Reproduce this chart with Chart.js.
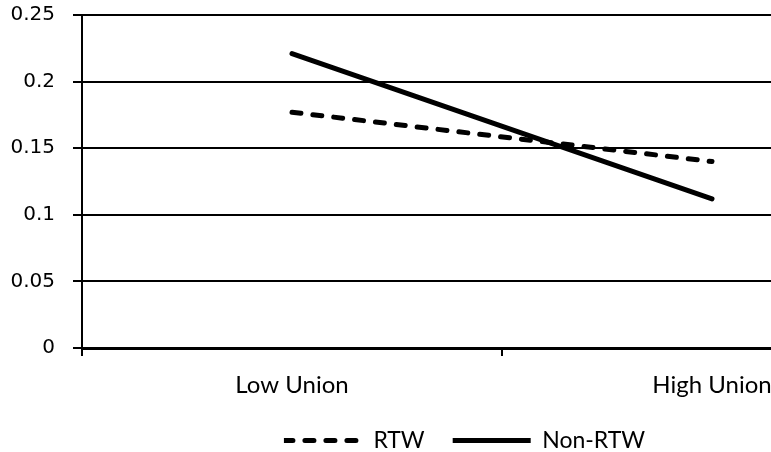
<!DOCTYPE html>
<html>
<head>
<meta charset="utf-8">
<script src="https://cdn.jsdelivr.net/npm/chart.js@4.4.1/dist/chart.umd.min.js"></script>
<style>
    html, body { margin: 0; padding: 0; background: #fff; overflow: hidden; }
    #unionChart { display: block; margin-top: -15px; }
</style>
</head>
<body>
<canvas id="unionChart" width="940" height="477"></canvas>
<script>
const categories = ['Low Union', 'High Union'];
const rtwValues = [0.177, 0.140];
const nonRtwValues = [0.221, 0.112];
const yTickLabels = ['0', '0.05', '0.1', '0.15', '0.2', '0.25'];

document.addEventListener('DOMContentLoaded', function() {
    const ctx = document.getElementById('unionChart').getContext('2d');

    new Chart(ctx, {
        type: 'line',
        data: {
            labels: categories,
            datasets: [{
                label: 'RTW',
                data: rtwValues,
                borderColor: '#000',
                backgroundColor: '#000',
                borderWidth: 5,
                borderDash: [9, 12],
                borderCapStyle: 'round',
                pointRadius: 0,
                tension: 0
            }, {
                label: 'Non-RTW',
                data: nonRtwValues,
                borderColor: '#000',
                backgroundColor: '#000',
                borderWidth: 5,
                borderCapStyle: 'round',
                pointRadius: 0,
                tension: 0
            }]
        },
        options: {
            responsive: false,
            animation: false,
            layout: {
                padding: { top: 0, right: 18, bottom: 0, left: 7 }
            },
            scales: {
                x: {
                    offset: true,
                    grid: {
                        offset: true,
                        drawOnChartArea: false,
                        drawTicks: true,
                        tickLength: 8,
                        color: '#000',
                        lineWidth: 2
                    },
                    border: { color: '#000', width: 3 },
                    ticks: {
                        color: '#000',
                        padding: 15,
                        font: { family: 'Lato', size: 24 },
                        maxRotation: 0
                    },
                    afterFit: function(scale) { scale.height = 53; }
                },
                y: {
                    min: 0,
                    max: 0.25,
                    ticks: {
                        stepSize: 0.05,
                        color: '#000',
                        padding: 18,
                        font: { family: 'DejaVu Sans', size: 20 },
                        callback: function(value, index) { return yTickLabels[index]; }
                    },
                    grid: {
                        color: '#000',
                        lineWidth: 2,
                        tickLength: 9
                    },
                    border: { color: '#000', width: 2 },
                    afterFit: function(scale) { scale.width = 75; }
                }
            },
            plugins: {
                legend: {
                    position: 'bottom',
                    labels: {
                        color: '#000',
                        font: { family: 'Lato', size: 23 },
                        boxWidth: 78,
                        boxHeight: 0,
                        padding: 28
                    }
                },
                tooltip: { enabled: false }
            }
        }
    });
});
</script>
</body>
</html>
